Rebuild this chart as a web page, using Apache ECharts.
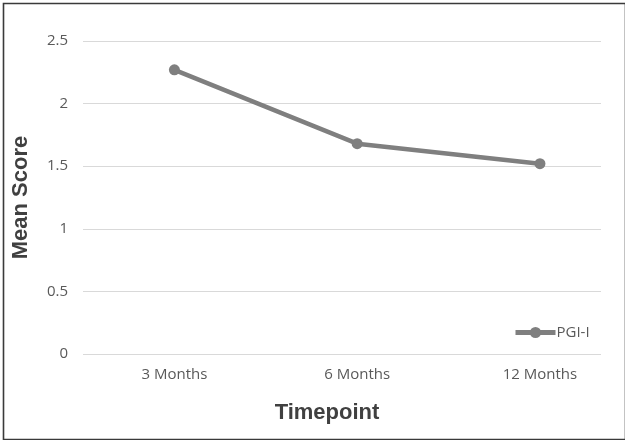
<!DOCTYPE html>
<html>
<head>
<meta charset="utf-8">
<script src="https://cdn.jsdelivr.net/npm/echarts@6/dist/echarts.min.js"></script>
<style>html,body{margin:0;padding:0;background:#fff}#c{width:625px;height:440px}</style>
</head>
<body>
<div id="c"></div>
<script>
const categories = ['3 Months', '6 Months', '12 Months'];
const seriesName = 'PGI-I';
const pgiValues = [2.27, 1.68, 1.52];
const yTicks = [0, 0.5, 1, 1.5, 2, 2.5];

const chart = echarts.init(document.getElementById('c'), null, {renderer: 'canvas'});
const labelFont = {fontFamily: 'Open Sans', fontSize: 15, color: '#595959'};
const catIdx = categories.map((c, i) => i);
chart.setOption({
  animation: false,
  backgroundColor: '#fff',
  graphic: [{
    type: 'rect', left: 1, top: 1, z: 100,
    shape: {x: 0, y: 0, width: 622, height: 436},
    style: {fill: 'none', stroke: '#3a3a3a', lineWidth: 1.6}
  }],
  grid: {left: 83, width: 518, top: 41, bottom: 86},
  xAxis: {
    type: 'value', min: -0.5, max: 2.334,
    axisLine: {show: false}, axisTick: {show: false},
    axisLabel: Object.assign({margin: 13, customValues: catIdx, formatter: v => categories[Math.round(v)] || ''}, labelFont),
    splitLine: {show: false}
  },
  yAxis: {
    type: 'value', min: yTicks[0], max: yTicks[yTicks.length - 1], interval: 0.5,
    name: 'Mean Score', nameLocation: 'middle', nameGap: 51, nameRotate: 90,
    nameTextStyle: {fontFamily: 'Liberation Sans', fontWeight: 'bold', fontSize: 22, color: '#404040'},
    axisLine: {show: false}, axisTick: {show: false},
    axisLabel: Object.assign({margin: 15}, labelFont),
    splitLine: {show: true, lineStyle: {color: '#d9d9d9', width: 1}}
  },
  title: {
    text: 'Timepoint', left: 322, top: 397, textAlign: 'center',
    textStyle: {fontFamily: 'Liberation Sans', fontWeight: 'bold', fontSize: 22, color: '#404040'}
  },
  legend: {
    show: true, left: 508, top: 320, itemWidth: 40, itemHeight: 14, itemGap: 2,
    lineStyle: {width: 5},
    textStyle: {fontFamily: 'Open Sans', fontSize: 15, color: '#595959', padding: [0,0,0,-4]},
    data: [{name: seriesName}]
  },
  series: [{
    name: seriesName, type: 'line',
    data: pgiValues.map((v, i) => [catIdx[i], v]), symbol: 'circle', symbolSize: 11,
    lineStyle: {color: '#7f7f7f', width: 4.5},
    itemStyle: {color: '#7f7f7f'}
  }]
});
</script>
</body>
</html>
